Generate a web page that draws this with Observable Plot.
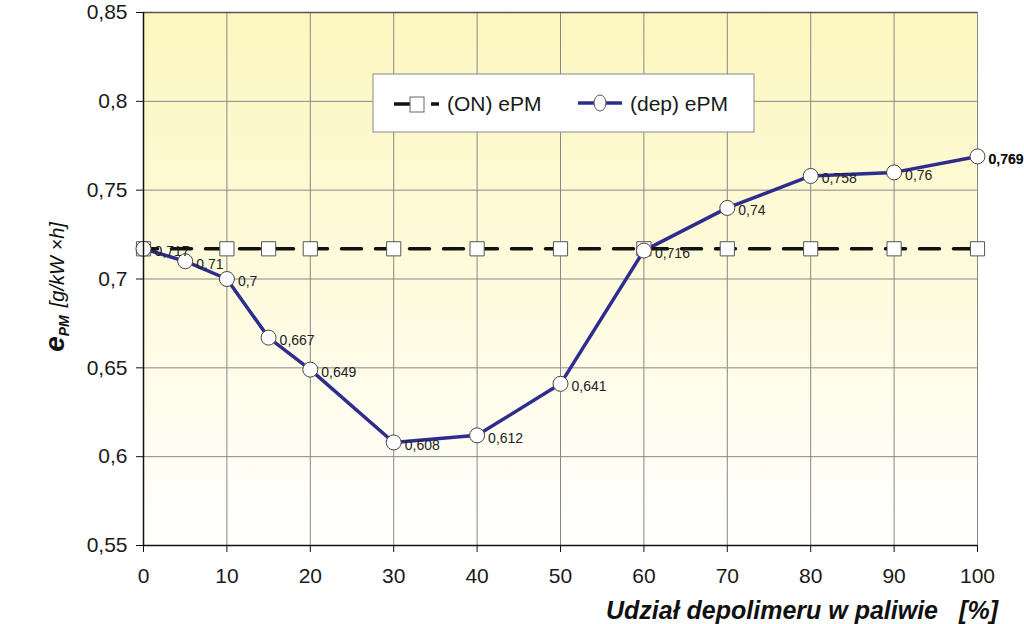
<!DOCTYPE html>
<html><head><meta charset="utf-8">
<script src="https://cdn.jsdelivr.net/npm/d3@7"></script>
<script src="https://cdn.jsdelivr.net/npm/@observablehq/plot@0.6"></script>
<style>body{margin:0;background:#fff;} #chart svg{display:block;}</style>
</head><body><div id="chart"></div>
<script>
// ---- data ----
const depShare = [0, 5, 10, 15, 20, 30, 40, 50, 60, 70, 80, 90, 100];
const depValues = [0.717, 0.71, 0.7, 0.667, 0.649, 0.608, 0.612, 0.641, 0.716, 0.74, 0.758, 0.76, 0.769];
const onShare = [0, 10, 15, 20, 30, 40, 50, 60, 70, 80, 90, 100];
const onValues = [0.717, 0.717, 0.717, 0.717, 0.717, 0.717, 0.717, 0.717, 0.717, 0.717, 0.717, 0.717];
const xTicks = [0, 10, 20, 30, 40, 50, 60, 70, 80, 90, 100];
const yTicks = [0.55, 0.6, 0.65, 0.7, 0.75, 0.8, 0.85];
const seriesNames = ["(ON) ePM", "(dep) ePM"];
const xTitle = "Udział depolimeru w paliwie";
const xUnit = "[%]";
const yTitleMain = "e";
const yTitleSub = "PM";
const yTitleUnit = "[g/kW ×h]";

const comma = v => String(v).replace(".", ",");
const dep = depShare.map((x, i) => ({x, y: depValues[i], label: comma(depValues[i])}));
const on = onShare.map((x, i) => ({x, y: onValues[i]}));

const FONT = "'Liberation Sans', Arial, Helvetica, sans-serif";
const BLUE = "#2e2d8f";

const bgDefs = () => {
  const g = document.createElementNS("http://www.w3.org/2000/svg", "defs");
  g.innerHTML = `<linearGradient id="bgGrad" x1="0" y1="0" x2="0" y2="1">
    <stop offset="0" stop-color="#fdf7bf"/>
    <stop offset="0.55" stop-color="#fefbe0"/>
    <stop offset="1" stop-color="#ffffff"/></linearGradient>`;
  return g;
};

const plot = Plot.plot({
  width: 1024, height: 624,
  marginLeft: 143, marginRight: 47, marginTop: 12, marginBottom: 79,
  style: {fontFamily: FONT, background: "#fff", color: "#1a1a1a"},
  x: {domain: [0, 100]},
  y: {domain: [0.55, 0.85]},
  marks: [
    bgDefs,
    Plot.frame({fill: "url(#bgGrad)", stroke: "none"}),
    Plot.ruleX(xTicks.slice(1), {stroke: "#888", strokeWidth: 1}),
    Plot.ruleY(yTicks.slice(1, -1), {stroke: "#888", strokeWidth: 1}),
    Plot.ruleY([yTicks[yTicks.length - 1]], {stroke: "#555", strokeWidth: 1.5}),
    Plot.line(dep, {x: "x", y: "y", stroke: BLUE, strokeWidth: 3.5}),
    Plot.line(on, {x: "x", y: "y", stroke: "#111", strokeWidth: 3.5, strokeDasharray: "20,14", strokeDashoffset: 6}),
    Plot.dot(on, {x: "x", y: "y", symbol: "square", r: 8, fill: "#fff", stroke: "#555", strokeWidth: 1}),
    Plot.dot(dep, {x: "x", y: "y", r: 7.5, fill: "#fff", stroke: "#444", strokeWidth: 1}),
    Plot.text(dep, {x: "x", y: "y", text: "label", dx: 11, dy: 3, textAnchor: "start", fontSize: 14, fill: "#222"}),
    Plot.text(dep.slice(-1), {x: "x", y: "y", text: "label", dx: 11, dy: 3, textAnchor: "start", fontSize: 14, fill: "#111", fontWeight: "bold"}),
    Plot.ruleX([0], {stroke: "#111", strokeWidth: 1.5}),
    Plot.ruleY([0.55], {stroke: "#111", strokeWidth: 1.5}),
    Plot.axisX({ticks: xTicks, tickSize: 7, tickPadding: 16, fontSize: 21, label: null, stroke: "#111", fill: "#1a1a1a"}),
    Plot.axisY({ticks: yTicks, tickSize: 7, tickPadding: 9, fontSize: 21, label: null, tickFormat: comma, stroke: "#111", fill: "#1a1a1a"})
  ]
});
document.getElementById("chart").append(plot);

const svg = d3.select(plot);
// Y title
const yt = svg.append("text")
  .attr("transform", "translate(64,287) rotate(-90)")
  .attr("text-anchor", "middle")
  .attr("font-family", FONT).attr("fill", "#111");
yt.append("tspan").attr("font-size", 28).attr("font-weight", "bold").attr("font-style", "italic").text(yTitleMain);
yt.append("tspan").attr("font-size", 14).attr("font-weight", "bold").attr("font-style", "italic").attr("dy", 5).text(yTitleSub);
yt.append("tspan").attr("font-size", 20).attr("font-style", "italic").attr("dy", -5).attr("dx", 8).text(yTitleUnit);

// X title
svg.append("text").attr("x", 938).attr("y", 619).attr("text-anchor", "end")
  .attr("font-family", FONT).attr("font-size", 25).attr("font-weight", "bold").attr("font-style", "italic")
  .attr("fill", "#111").text(xTitle);
svg.append("text").attr("x", 998).attr("y", 619).attr("text-anchor", "end")
  .attr("font-family", FONT).attr("font-size", 25).attr("font-weight", "bold").attr("font-style", "italic")
  .attr("fill", "#111").text(xUnit);

// Legend
const lg = svg.append("g").attr("text-anchor", "start");
lg.append("rect").attr("x", 373).attr("y", 74).attr("width", 381).attr("height", 58)
  .attr("fill", "#fff").attr("stroke", "#888").attr("stroke-width", 1);
lg.append("line").attr("x1", 394).attr("x2", 411).attr("y1", 104).attr("y2", 104).attr("stroke", "#111").attr("stroke-width", 3.5);
lg.append("rect").attr("x", 410).attr("y", 97).attr("width", 14).attr("height", 15).attr("fill", "#fff").attr("stroke", "#666");
lg.append("line").attr("x1", 431).attr("x2", 439).attr("y1", 104).attr("y2", 104).attr("stroke", "#111").attr("stroke-width", 3.5);
lg.append("text").attr("x", 447).attr("y", 111).attr("text-anchor", "start").attr("font-family", FONT).attr("font-size", 21).attr("fill", "#1a1a1a").text(seriesNames[0]);
lg.append("line").attr("x1", 578).attr("x2", 622).attr("y1", 103).attr("y2", 103).attr("stroke", BLUE).attr("stroke-width", 3.5);
lg.append("ellipse").attr("cx", 600).attr("cy", 103).attr("rx", 6).attr("ry", 8).attr("fill", "#fff").attr("stroke", "#555");
lg.append("text").attr("x", 630).attr("y", 111).attr("text-anchor", "start").attr("font-family", FONT).attr("font-size", 21).attr("fill", "#1a1a1a").text(seriesNames[1]);
</script>
</body></html>
